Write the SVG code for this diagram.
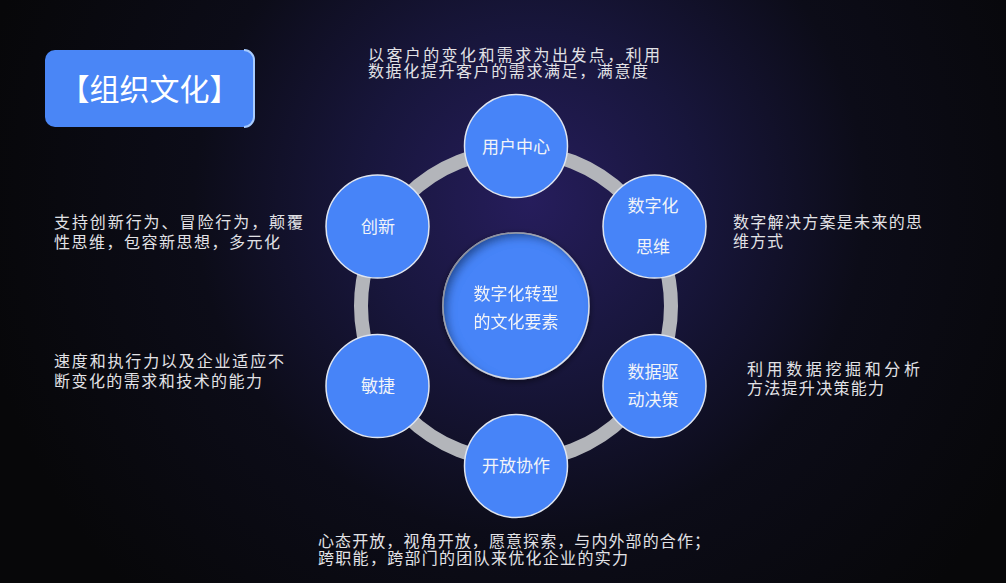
<svg xmlns="http://www.w3.org/2000/svg" width="1006" height="583" viewBox="0 0 1006 583">
  <defs>
    <radialGradient id="bg" cx="530" cy="200" r="560" gradientUnits="userSpaceOnUse">
      <stop offset="0" stop-color="#261d5c"/>
      <stop offset="0.3" stop-color="#18163c"/>
      <stop offset="0.6" stop-color="#0c0c18"/>
      <stop offset="1" stop-color="#070709"/>
    </radialGradient>
    <filter id="inner" x="-20%" y="-20%" width="140%" height="140%">
      <feGaussianBlur in="SourceAlpha" stdDeviation="4" result="b"/>
      <feOffset in="b" dx="5" dy="5" result="o"/>
      <feComposite in="SourceAlpha" in2="o" operator="out" result="ring"/>
      <feFlood flood-color="#0a1640" flood-opacity="0.7"/>
      <feComposite in2="ring" operator="in" result="sh"/>
      <feMerge><feMergeNode in="SourceGraphic"/><feMergeNode in="sh"/></feMerge>
    </filter>
    <filter id="drop" x="-20%" y="-20%" width="140%" height="140%">
      <feGaussianBlur in="SourceAlpha" stdDeviation="3"/>
      <feOffset dx="0" dy="2" result="o"/>
      <feFlood flood-color="#000" flood-opacity="0.5"/>
      <feComposite in2="o" operator="in"/>
      <feMerge><feMergeNode/><feMergeNode in="SourceGraphic"/></feMerge>
    </filter>
  </defs>
  <style>
    .node { fill: #4784f8; stroke: #dfe5f0; stroke-width: 1.5; }
    .lbl { font-family: "Noto Sans CJK SC", "Noto Sans", sans-serif; font-size: 17px; fill: #f2f4f8; text-anchor: middle; }
    .desc { font-family: "Liberation Sans", "Noto Sans CJK SC", sans-serif; font-size: 16px; fill: #e2e2e6; }
    .title { font-family: "Noto Sans CJK SC", "Noto Sans", sans-serif; font-size: 30px; fill: #ffffff; text-anchor: middle; }
  </style>
  <rect x="0" y="0" width="1006" height="583" fill="url(#bg)"/>

  <g id="title-box">
    <rect x="45" y="50" width="209" height="77" rx="10" ry="10" fill="#4a86f6"/>
    <path d="M244 50 A10 10 0 0 1 254 60 L254 117 A10 10 0 0 1 244 127" fill="none" stroke="#a8ccff" stroke-width="2"/>
    <text class="title" x="149.5" y="100">【组织文化】</text>
  </g>

  <g id="connectors">
    <circle cx="516" cy="306" r="155" fill="none" stroke="#b3b5ba" stroke-width="14"/>
  </g>

  <g id="node-center" filter="url(#drop)">
    <circle class="node" cx="516" cy="306" r="73" filter="url(#inner)"/>
    <text class="lbl" x="516" y="300">数字化转型</text>
    <text class="lbl" x="516" y="328">的文化要素</text>
  </g>
  <g id="node-user">
    <circle class="node" cx="516" cy="146" r="51.5"/>
    <text class="lbl" x="516" y="153">用户中心</text>
  </g>
  <g id="node-digital">
    <circle class="node" cx="654.5" cy="226.5" r="51.5"/>
    <text class="lbl" x="653" y="212">数字化</text>
    <text class="lbl" x="653" y="253">思维</text>
  </g>
  <g id="node-data">
    <circle class="node" cx="654.5" cy="386" r="51.5"/>
    <text class="lbl" x="653" y="378">数据驱</text>
    <text class="lbl" x="653" y="406">动决策</text>
  </g>
  <g id="node-open">
    <circle class="node" cx="516" cy="466" r="51.5"/>
    <text class="lbl" x="516" y="472">开放协作</text>
  </g>
  <g id="node-agile">
    <circle class="node" cx="377.5" cy="386" r="51.5"/>
    <text class="lbl" x="378" y="392">敏捷</text>
  </g>
  <g id="node-innov">
    <circle class="node" cx="377.5" cy="226.5" r="51.5"/>
    <text class="lbl" x="378" y="233">创新</text>
  </g>

  <g id="descriptions">
    <text class="desc"><tspan x="368" y="61" textLength="292">以客户的变化和需求为出发点，利用</tspan><tspan x="368" y="77" textLength="280">数据化提升客户的需求满足，满意度</tspan></text>

    <text class="desc"><tspan x="733" y="228" textLength="189">数字解决方案是未来的思</tspan><tspan x="733" y="247" textLength="50">维方式</tspan></text>

    <text class="desc"><tspan x="747" y="375" textLength="173">利用数据挖掘和分析</tspan><tspan x="747" y="394" textLength="137">方法提升决策能力</tspan></text>

    <text class="desc"><tspan x="54" y="228" textLength="249">支持创新行为、冒险行为，颠覆</tspan><tspan x="54" y="248" textLength="226">性思维，包容新思想，多元化</tspan></text>

    <text class="desc"><tspan x="54" y="367" textLength="230">速度和执行力以及企业适应不</tspan><tspan x="54" y="387" textLength="208">断变化的需求和技术的能力</tspan></text>

    <text class="desc"><tspan x="318" y="547" textLength="392">心态开放，视角开放，愿意探索，与内外部的合作；</tspan><tspan x="318" y="564" textLength="310">跨职能，跨部门的团队来优化企业的实力</tspan></text>
  </g>
</svg>
